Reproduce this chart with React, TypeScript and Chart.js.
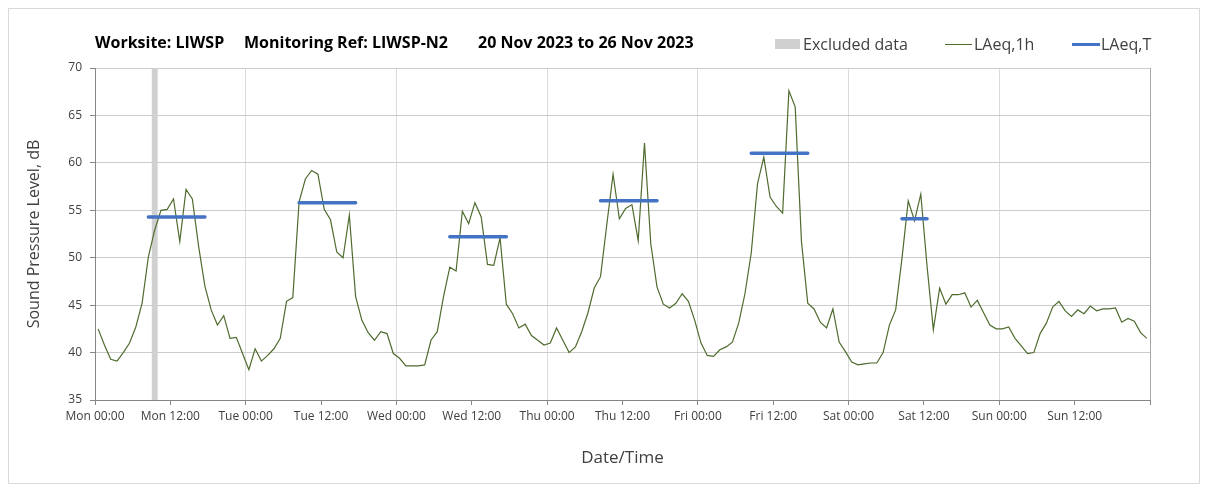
import React, { useEffect, useRef } from 'react';
import { Chart, registerables } from 'chart.js';

Chart.register(...registerables);

// ---- Data ----
const dayNames = ['Mon', 'Tue', 'Wed', 'Thu', 'Fri', 'Sat', 'Sun'];
const tickTimes = ['00:00', '12:00'];

// Hourly LAeq,1h (dB), Mon 00:00 .. Sun 23:00
const laeqMon = [42.5, 40.8, 39.3, 39.1, 40.0, 41.0, 42.7, 45.2, 50.1, 52.9, 55.0, 55.1, 56.2, 51.7, 57.2, 56.2, 51.2, 47.0, 44.5, 42.9, 43.9, 41.5, 41.6, 39.9];
const laeqTue = [38.2, 40.4, 39.1, 39.7, 40.4, 41.5, 45.4, 45.8, 55.9, 58.3, 59.2, 58.8, 55.1, 54.0, 50.6, 50.0, 54.5, 45.9, 43.4, 42.1, 41.3, 42.2, 42.0, 39.9];
const laeqWed = [39.4, 38.6, 38.6, 38.6, 38.7, 41.3, 42.2, 45.9, 49.0, 48.6, 54.9, 53.6, 55.8, 54.3, 49.3, 49.2, 52.1, 45.1, 44.1, 42.6, 43.0, 41.8, 41.3, 40.8];
const laeqThu = [41.0, 42.6, 41.3, 40.0, 40.6, 42.2, 44.2, 46.8, 48.0, 53.5, 58.8, 54.1, 55.2, 55.6, 51.8, 62.1, 51.5, 46.9, 45.1, 44.7, 45.2, 46.2, 45.4, 43.4];
const laeqFri = [41.0, 39.7, 39.6, 40.3, 40.6, 41.1, 43.1, 46.2, 50.5, 57.8, 60.6, 56.4, 55.4, 54.7, 67.6, 65.9, 51.7, 45.2, 44.6, 43.2, 42.6, 44.6, 41.1, 40.1];
const laeqSat = [39.0, 38.7, 38.8, 38.9, 38.9, 40.0, 42.9, 44.5, 49.9, 56.0, 53.9, 56.7, 49.1, 42.4, 46.8, 45.1, 46.1, 46.1, 46.3, 44.8, 45.5, 44.2, 42.9, 42.5];
const laeqSun = [42.5, 42.7, 41.5, 40.7, 39.9, 40.0, 42.0, 43.1, 44.8, 45.4, 44.4, 43.8, 44.5, 44.1, 44.9, 44.4, 44.6, 44.6, 44.7, 43.2, 43.6, 43.3, 42.1, 41.5];

// LAeq,T per assessment period (day index, first hour, last hour, level)
const periodDay = [0, 1, 2, 3, 4, 5];
const periodFirstHour = [8, 8, 8, 8, 8, 8];
const periodLastHour = [17, 17, 17, 17, 17, 12];
const laeqT = [54.3, 55.8, 52.2, 56.0, 61.0, 54.1];

// Excluded data hours (hour index from Mon 00:00)
const excludedHours = [9];

const yMin = 35;
const yMax = 70;
const yStep = 5;
const xTickStep = 12;
const totalHours = 168;

const GREEN = '#4f6b2e';
const BLUE = '#4472c4';
const GREY = '#d0d0d0';
const FONT = "'Open Sans', 'DejaVu Sans', sans-serif";

export default function App() {
  const canvasRef = useRef<HTMLCanvasElement | null>(null);

  useEffect(() => {
    if (!canvasRef.current) return;
    const hourly = [...laeqMon, ...laeqTue, ...laeqWed, ...laeqThu, ...laeqFri, ...laeqSat, ...laeqSun];
    const lineData = hourly.map((v, i) => ({ x: i + 0.5, y: v }));

    const tData: { x: number; y: number | null }[] = [];
    periodDay.forEach((d, k) => {
      const x0 = d * 24 + periodFirstHour[k] + 0.5;
      const x1 = d * 24 + periodLastHour[k] + 0.5;
      tData.push({ x: x0, y: laeqT[k] });
      tData.push({ x: x1, y: laeqT[k] });
      tData.push({ x: x1 + 1, y: null });
    });

    const exclData: { x: number; y: number | null }[] = [];
    excludedHours.forEach((h) => {
      exclData.push({ x: h, y: yMax });
      exclData.push({ x: h + 1, y: yMax });
      exclData.push({ x: h + 1.01, y: null });
    });

    const chart = new Chart(canvasRef.current, {
      type: 'line',
      data: {
        datasets: [
          {
            label: 'LAeq,T',
            data: tData,
            borderColor: BLUE,
            borderWidth: 3.5,
            borderCapStyle: 'round',
            pointRadius: 0,
            spanGaps: false,
            fill: false,
          },
          {
            label: 'LAeq,1h',
            data: lineData,
            borderColor: GREEN,
            borderWidth: 1.2,
            pointRadius: 0,
            tension: 0,
            fill: false,
          },
          {
            label: 'Excluded data',
            data: exclData,
            borderWidth: 0,
            borderColor: 'rgba(0,0,0,0)',
            backgroundColor: GREY,
            pointRadius: 0,
            spanGaps: false,
            fill: 'start',
          },
        ],
      },
      options: {
        animation: false,
        responsive: false,
        maintainAspectRatio: false,
        layout: { padding: { top: 59, left: 12, right: 49, bottom: 11 } },
        plugins: {
          legend: { display: false },
          title: { display: false },
          tooltip: { enabled: false },
        },
        scales: {
          x: {
            type: 'linear',
            min: 0,
            max: totalHours,
            afterBuildTicks: (scale: any) => {
              const ticks = [];
              for (let v = 0; v <= totalHours; v += xTickStep) ticks.push({ value: v });
              scale.ticks = ticks;
            },
            afterFit: (scale: any) => {
              scale.height = 72;
            },
            ticks: {
              autoSkip: false,
              maxRotation: 0,
              minRotation: 0,
              padding: 4,
              color: '#404040',
              font: { family: FONT, size: 12 },
              callback: (value: any) => {
                const v = Number(value);
                if (v >= totalHours) return '';
                const day = Math.floor(v / 24);
                return dayNames[day] + ' ' + tickTimes[(v % 24) / 12];
              },
            },
            grid: {
              color: (ctx: any) => {
                const v = ctx.tick ? ctx.tick.value : 0;
                if (v === totalHours) return '#a6a6a6';
                return v % 24 === 0 ? '#dcdcdc' : 'rgba(0,0,0,0)';
              },
              tickColor: '#868686',
              tickLength: 5,
              lineWidth: 1,
            },
            border: { color: '#868686' },
            title: {
              display: true,
              text: 'Date/Time',
              color: '#404040',
              font: { family: FONT, size: 17 },
              padding: { top: 4, bottom: 4 },
            },
          },
          y: {
            min: yMin,
            max: yMax,
            afterFit: (scale: any) => {
              scale.width = 74;
            },
            ticks: {
              stepSize: yStep,
              padding: 8,
              color: '#404040',
              font: { family: FONT, size: 12 },
            },
            grid: {
              color: '#cccccc',
              tickColor: '#868686',
              tickLength: 5,
            },
            border: { color: '#868686' },
            title: {
              display: true,
              text: 'Sound Pressure Level, dB',
              color: '#404040',
              font: { family: FONT, size: 16 },
              padding: { top: 4, bottom: 4 },
            },
          },
        },
      },
    } as any);
    return () => chart.destroy();
  }, []);

  const textStyle: React.CSSProperties = {
    position: 'absolute',
    fontFamily: FONT,
    whiteSpace: 'nowrap',
  };
  const titleStyle: React.CSSProperties = {
    ...textStyle,
    top: 23,
    fontSize: 16,
    lineHeight: '20px',
    fontWeight: 700,
    color: '#000',
  };
  const legendText: React.CSSProperties = {
    ...textStyle,
    top: 25,
    fontSize: 16,
    lineHeight: '20px',
    color: '#404040',
  };

  return (
    <div
      style={{
        position: 'relative',
        width: 1190,
        height: 474,
        border: '1px solid #d9d9d9',
        background: '#fff',
      }}
    >
      <canvas ref={canvasRef} width={1190} height={474} style={{ display: 'block' }} />
      <span style={{ ...titleStyle, left: 86 }}>Worksite: LIWSP</span>
      <span style={{ ...titleStyle, left: 235 }}>Monitoring Ref: LIWSP-N2</span>
      <span style={{ ...titleStyle, left: 469 }}>20 Nov 2023 to 26 Nov 2023</span>

      <div style={{ position: 'absolute', left: 766, top: 30, width: 25, height: 10, background: GREY }} />
      <span style={{ ...legendText, left: 794 }}>Excluded data</span>
      <div style={{ position: 'absolute', left: 936, top: 35, width: 27, height: 1, background: GREEN }} />
      <span style={{ ...legendText, left: 965 }}>LAeq,1h</span>
      <div style={{ position: 'absolute', left: 1063, top: 34, width: 28, height: 3, background: BLUE }} />
      <span style={{ ...legendText, left: 1092 }}>LAeq,T</span>
    </div>
  );
}
